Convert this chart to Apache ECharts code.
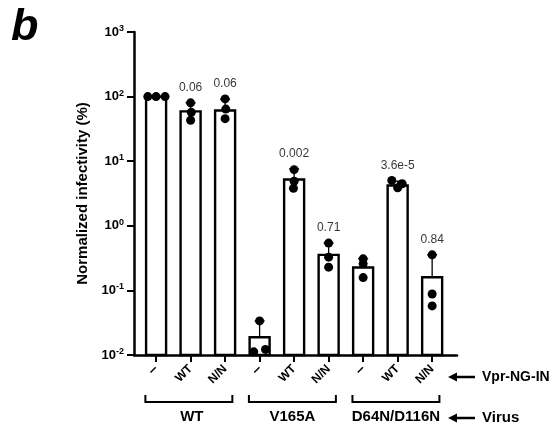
<!DOCTYPE html>
<html>
<head>
<meta charset="utf-8">
<script src="https://cdn.jsdelivr.net/npm/echarts@6/dist/echarts.min.js"></script>
<style>html,body{margin:0;padding:0;background:#fff;}#c{width:557px;height:431px;}</style>
</head>
<body>
<div id="c"></div>
<script>
// ---- data ----
var xLabels = ['–', 'WT', 'N/N', '–', 'WT', 'N/N', '–', 'WT', 'N/N'];
var groups = ['WT', 'V165A', 'D64N/D116N'];
var barMeans = [100, 59, 61, 0.0188, 5.2, 0.355, 0.226, 4.2, 0.160];
var errTops = [100, 80, 91, 0.0337, 7.6, 0.54, 0.31, 4.9, 0.355];
var dotValues = [
  [100, 100, 100],
  [80, 57, 43],
  [92, 64, 45.6],
  [0.0337, 0.0112, 0.0122],
  [7.4, 4.9, 3.8],
  [0.54, 0.327, 0.229],
  [0.308, 0.258, 0.158],
  [5.04, 4.48, 3.88],
  [0.355, 0.088, 0.0575]
];
var dotJitter = [
  [-0.24, 0, 0.26],
  [0, 0.02, 0],
  [0, 0.02, 0],
  [0, -0.17, 0.17],
  [0, 0, -0.02],
  [0, 0, 0],
  [0, 0, 0],
  [-0.17, 0.13, 0],
  [0, 0, 0]
];
var pLabels = ['', '0.06', '0.06', '', '0.002', '0.71', '', '3.6e-5', '0.84'];
var yTicks = [0.01, 0.1, 1, 10, 100, 1000];

var FONT = 'Liberation Sans, Arial, Helvetica, sans-serif';
var Y_MIN = 0.01, Y_MAX = 1000;

var barData = barMeans.map(function (v, i) { return [i, v]; });
var errData = [];
errTops.forEach(function (v, i) { if (v > barMeans[i]) errData.push([i, barMeans[i], v]); });
var dotData = [];
dotValues.forEach(function (arr, i) {
  arr.forEach(function (v, k) { dotData.push([i + dotJitter[i][k], v]); });
});
var annoData = [];
pLabels.forEach(function (t, i) {
  if (!t) return;
  var top = Math.max(errTops[i], Math.max.apply(null, dotValues[i]));
  annoData.push([i, top, t]);
});

var chart = echarts.init(document.getElementById('c'), null, {renderer: 'canvas'});

var option = {
  animation: false,
  backgroundColor: '#fff',
  grid: {left: 134, right: 100, top: 32, bottom: 76},
  xAxis: {
    type: 'value',
    min: -0.64, max: 8.72,
    splitLine: {show: false},
    axisLine: {show: true, onZero: false, lineStyle: {color: '#000', width: 2.5}},
    axisTick: {show: true, customValues: [0, 1, 2, 3, 4, 5, 6, 7, 8], length: 7, lineStyle: {color: '#000', width: 2}},
    axisLabel: {
      show: true,
      customValues: [0, 1, 2, 3, 4, 5, 6, 7, 8],
      rotate: 45,
      margin: 12,
      color: '#000',
      fontFamily: FONT,
      fontWeight: 'bold',
      fontSize: 12,
      formatter: function (v) {
        var t = xLabels[Math.round(v)];
        return t === '–' ? '{d|–}' : t;
      },
      rich: {d: {fontSize: 15, fontWeight: 'bold', fontFamily: FONT, color: '#000'}}
    }
  },
  yAxis: {
    type: 'log',
    logBase: 10,
    min: Y_MIN, max: Y_MAX,
    splitNumber: 5,
    splitLine: {show: false},
    axisLine: {show: true, onZero: false, lineStyle: {color: '#000', width: 2.5}},
    axisTick: {show: true, inside: false, customValues: yTicks, length: 7, lineStyle: {color: '#000', width: 2}},
    axisLabel: {
      margin: 10,
      customValues: yTicks,
      color: '#000',
      formatter: function (v) {
        var e = Math.round(Math.log10(v));
        return '{b|10}{s|' + e + '}';
      },
      rich: {
        b: {fontSize: 13, fontWeight: 'bold', fontFamily: FONT, color: '#000'},
        s: {fontSize: 9, fontWeight: 'bold', fontFamily: FONT, color: '#000', padding: [0, 0, 7, 0]}
      }
    },
    name: 'Normalized infectivity (%)',
    nameLocation: 'middle',
    nameGap: 42,
    nameTextStyle: {fontSize: 15, fontWeight: 'bold', fontFamily: FONT, color: '#000'}
  },
  series: [
    {
      type: 'custom',
      name: 'bars',
      data: barData,
      z: 2,
      renderItem: function (params, api) {
        var x = api.value(0), v = api.value(1);
        var top = api.coord([x, v]);
        var bot = api.coord([x, Y_MIN]);
        return {
          type: 'rect',
          shape: {x: top[0] - 10, y: top[1], width: 20, height: bot[1] - top[1]},
          style: {fill: '#fff', stroke: '#000', lineWidth: 2.4}
        };
      }
    },
    {
      type: 'custom',
      name: 'err',
      data: errData,
      z: 3,
      renderItem: function (params, api) {
        var x = api.value(0), m = api.value(1), e = api.value(2);
        var p0 = api.coord([x, m]);
        var p1 = api.coord([x, e]);
        return {
          type: 'group',
          children: [
            {type: 'line', shape: {x1: p0[0], y1: p0[1], x2: p1[0], y2: p1[1]}, style: {stroke: '#000', lineWidth: 1.3}},
            {type: 'line', shape: {x1: p1[0] - 5, y1: p1[1], x2: p1[0] + 5, y2: p1[1]}, style: {stroke: '#000', lineWidth: 1.3}}
          ]
        };
      }
    },
    {
      type: 'scatter',
      name: 'dots',
      data: dotData,
      symbol: 'circle',
      symbolSize: 9,
      itemStyle: {color: '#000', opacity: 1},
      z: 4
    },
    {
      type: 'scatter',
      name: 'anno',
      data: annoData,
      symbolSize: 0,
      z: 5,
      label: {
        show: true,
        position: 'top',
        distance: 9,
        formatter: function (p) { return p.value[2]; },
        color: '#000',
        fontFamily: FONT,
        fontSize: 12
      }
    }
  ]
};
chart.setOption(option);

// ---- annotations below the axis (brackets, group names, arrows) ----
function px(v) { return chart.convertToPixel({xAxisIndex: 0}, v); }
var yBase = chart.convertToPixel({yAxisIndex: 0}, Y_MIN);
var gfx = [];
var brY = yBase + 47;
groups.forEach(function (g, gi) {
  var x1 = px(gi * 3 - 0.31), x2 = px(gi * 3 + 2 + 0.21);
  gfx.push({type: 'polyline', shape: {points: [[x1, brY - 7], [x1, brY], [x2, brY], [x2, brY - 7]]},
    style: {stroke: '#000', lineWidth: 2, fill: null}});
  gfx.push({type: 'text', x: (x1 + x2) / 2 + (gi === 0 ? 3 : 0), y: brY + 15,
    style: {text: g, font: 'bold 15px ' + FONT, fill: '#000', align: 'center', verticalAlign: 'middle'}});
});
function arrow(y, label, fs) {
  var xs = px(8.72) - 9, xe = xs + 27;
  gfx.push({type: 'line', shape: {x1: xs + 6, y1: y, x2: xe, y2: y}, style: {stroke: '#000', lineWidth: 2.5}});
  gfx.push({type: 'polygon', shape: {points: [[xs, y], [xs + 9, y - 4.5], [xs + 9, y + 4.5]]}, style: {fill: '#000'}});
  gfx.push({type: 'text', x: xe + 7, y: y,
    style: {text: label, font: 'bold ' + fs + 'px ' + FONT, fill: '#000', align: 'left', verticalAlign: 'middle'}});
}
arrow(yBase + 22, 'Vpr-NG-IN', 14);
arrow(yBase + 63, 'Virus', 15);
gfx.push({type: 'text', x: 11, y: 28,
  style: {text: 'b', font: 'italic bold 45px ' + FONT, fill: '#000', align: 'left', verticalAlign: 'middle'}});
chart.setOption({graphic: gfx});
</script>
</body>
</html>
